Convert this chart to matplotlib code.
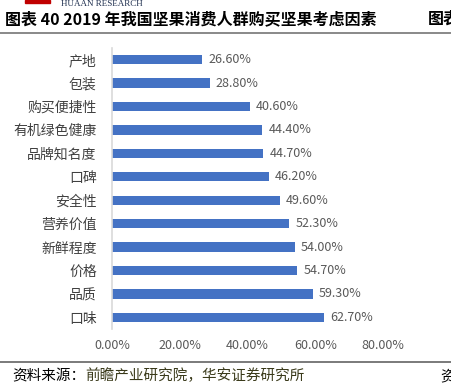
import matplotlib.pyplot as plt
from matplotlib.lines import Line2D
from matplotlib.patches import Rectangle

plt.rcParams['font.family'] = ['Noto Sans CJK SC', 'DejaVu Sans']

# data, top to bottom as in the chart
categories = ['产地', '包装', '购买便捷性', '有机绿色健康', '品牌知名度', '口碑',
              '安全性', '营养价值', '新鲜程度', '价格', '品质', '口味']
values = [26.6, 28.8, 40.6, 44.4, 44.7, 46.2, 49.6, 52.3, 54.0, 54.7, 59.3, 62.7]
xticks = [0, 20, 40, 60, 80]

title = '图表 40 2019 年我国坚果消费人群购买坚果考虑因素'
source_head = '资料来源：'
source_body = '前瞻产业研究院，华安证券研究所'

W, H = 452, 390
fig = plt.figure(figsize=(W / 100, H / 100), dpi=100)

ax = fig.add_axes([112 / W, 1 - 329 / H, 271 / W, 281 / H])
pos = list(range(len(categories)))[::-1]
ax.barh(pos, values, height=0.4, color='#4472C4')
for p, v in zip(pos, values):
    ax.text(v + 1.8, p, f'{v:.2f}%', va='center', ha='left',
            fontsize=9, color='#595959')

ax.set_xlim(0, 80)
ax.set_ylim(-0.5, len(categories) - 0.5)
ax.set_yticks(pos)
ax.set_yticklabels(categories, fontsize=10, color='#404040')
ax.set_xticks(xticks)
ax.set_xticklabels([f'{t:.2f}%' for t in xticks], fontsize=9, color='#595959')
ax.tick_params(axis='both', length=0)
ax.tick_params(axis='y', pad=11)
ax.tick_params(axis='x', pad=7)
for s in ['top', 'right', 'bottom']:
    ax.spines[s].set_visible(False)
ax.spines['left'].set_color('#D9D9D9')
ax.spines['left'].set_linewidth(1.2)

# page decorations around the chart
fig.patches.append(Rectangle((25 / W, 1 - 2.5 / H), 25 / W, 2.5 / H,
                             transform=fig.transFigure, color='#C00000'))
fig.text(61 / W, 1 - 4 / H, 'HUAAN RESEARCH', fontsize=6.5, color='#1F2F4F',
         family='Liberation Serif', va='center', ha='left')
fig.text(5 / W, 1 - 19 / H, title, fontsize=11.5, fontweight='bold',
         va='center', ha='left', color='black')
fig.text(428 / W, 1 - 19 / H, '图表', fontsize=11.5, fontweight='bold',
         va='center', ha='left', color='black')
fig.lines.append(Line2D([0, 1], [1 - 32.5 / H] * 2, transform=fig.transFigure,
                        color='#808080', linewidth=1.3))
fig.lines.append(Line2D([0, 1], [1 - 362 / H] * 2, transform=fig.transFigure,
                        color='#707070', linewidth=1.3))
fig.text(12 / W, 1 - 376 / H, source_head, fontsize=10.5, color='black',
         va='center', ha='left')
fig.text(85 / W, 1 - 376 / H, source_body, fontsize=10.5, color='#3A3A1A',
         va='center', ha='left')
fig.text(440 / W, 1 - 376 / H, '资', fontsize=10.5, color='black',
         va='center', ha='left')

fig.savefig('out.png', dpi=100)
